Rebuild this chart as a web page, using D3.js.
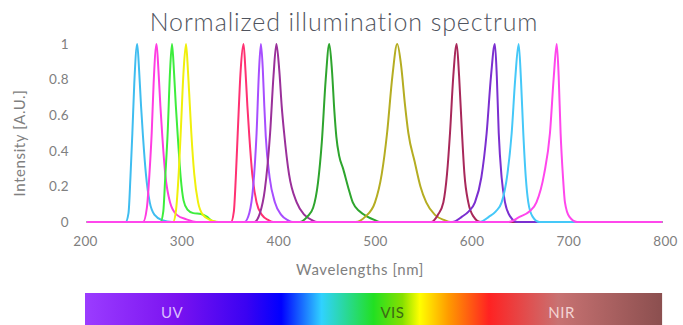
<!DOCTYPE html>
<html>
<head>
<meta charset="utf-8">
<script src="https://cdnjs.cloudflare.com/ajax/libs/d3/7.8.5/d3.min.js"></script>
<style>
  body { margin: 0; background: #fff; }
  text { font-family: Lato, "Open Sans", sans-serif; }
</style>
</head>
<body>
<script>
const W = 683, H = 325;

// tick labels
const xTicks = [200, 300, 400, 500, 600, 700, 800];
const yTicks = [0, 0.2, 0.4, 0.6, 0.8, 1];

// LED spectra: [wavelength nm, normalized intensity]
const led254 = [[202,0],[242,0],[245,0.05],[247,0.25],[249,0.5],[251,0.78],[254,1],[256,0.85],[258,0.65],[260,0.48],[263,0.27],[267,0.11],[272,0.04],[280,0.01],[290,0],[797,0]];
const led274 = [[202,0],[260,0],[264,0.08],[267,0.3],[269,0.5],[271,0.78],[274,1],[276,0.85],[278,0.65],[280,0.48],[283,0.27],[288,0.11],[295,0.04],[305,0.015],[315,0],[797,0]];
const led290 = [[202,0],[278,0],[281,0.06],[283,0.25],[285.5,0.5],[288,0.85],[290,1],[292,0.85],[294,0.65],[296,0.48],[299,0.25],[302,0.12],[306,0.07],[312,0.05],[320,0.045],[326,0.03],[332,0.005],[340,0],[797,0]];
const led305 = [[202,0],[291,0],[294,0.06],[297,0.28],[299,0.5],[302,0.85],[304.5,1],[306.5,0.85],[308.5,0.65],[310,0.5],[313,0.27],[317,0.11],[322,0.04],[330,0.01],[338,0],[797,0]];
const led364 = [[202,0],[351,0],[354,0.06],[356,0.25],[358,0.5],[361,0.85],[364,1],[366,0.85],[368,0.65],[370,0.48],[373,0.27],[377.5,0.11],[383,0.04],[390,0.01],[395,0],[797,0]];
const led382 = [[202,0],[365,0],[370,0.05],[374,0.2],[377.5,0.5],[380,0.85],[382,1],[384,0.85],[385.5,0.65],[387,0.48],[391,0.25],[396.5,0.11],[403,0.04],[410,0.01],[415,0],[797,0]];
const led398 = [[202,0],[375,0],[381,0.05],[386,0.18],[391.5,0.5],[395,0.82],[398,1],[401,0.85],[403.5,0.65],[406,0.5],[411,0.27],[419,0.11],[427,0.04],[435,0.01],[440,0],[797,0]];
const led453 = [[202,0],[422,0],[430,0.03],[436,0.08],[441,0.22],[445,0.45],[449,0.8],[452.7,1],[455.5,0.85],[458,0.62],[460,0.48],[463,0.37],[467,0.3],[472,0.2],[477,0.11],[484,0.06],[492,0.03],[500,0.01],[505,0],[797,0]];
const led523 = [[202,0],[480,0],[490,0.03],[500,0.11],[507,0.27],[512.5,0.5],[518,0.82],[523,1],[527,0.88],[531,0.66],[534.5,0.5],[541,0.34],[547,0.2],[553,0.11],[562,0.04],[572,0.01],[578,0],[797,0]];
const led585 = [[202,0],[558,0],[565,0.04],[570.7,0.11],[574.5,0.27],[577.6,0.5],[581,0.82],[584.5,1],[587,0.82],[590,0.5],[592.5,0.27],[596.5,0.11],[602,0.03],[609,0],[797,0]];
const led624 = [[202,0],[580,0],[590,0.03],[597,0.06],[603.4,0.11],[610,0.25],[615.5,0.5],[620,0.82],[624,1],[626,0.82],[628,0.5],[631,0.25],[634.5,0.11],[640,0.03],[647,0],[797,0]];
const led649 = [[202,0],[608,0],[618,0.03],[625,0.06],[631,0.11],[637,0.27],[641.4,0.5],[645,0.8],[648.6,1],[651,0.8],[653.4,0.5],[656,0.25],[658.6,0.11],[663,0.03],[670,0],[797,0]];
const led688 = [[202,0],[638,0],[650,0.03],[660,0.06],[667,0.11],[675,0.27],[681,0.5],[685,0.82],[688,1],[690,0.82],[692,0.5],[694.5,0.25],[696.5,0.11],[701,0.03],[709,0],[797,0]];

const spectra = [led254, led274, led290, led305, led364, led382, led398, led453, led523, led585, led624, led649, led688];
const colors = ['#3fbdf0', '#ff3de2', '#3ded3d', '#f0f00c', '#ff3172', '#a74eff', '#9a309a', '#2ea52e', '#b5ad22', '#a8285a', '#7b2fd0', '#45c8f8', '#ff47ec'];

// band labels under the chart
const bands = ['UV', 'VIS', 'NIR'];
const bandNm = [290, 518, 693];
const bandColors = ['#d9bcff', '#3d6a14', '#f3d4d4'];

const svg = d3.select('body').append('svg')
  .attr('width', W)
  .attr('height', H);

const x = d3.scaleLinear().domain([200, 800]).range([85, 665]);
const y = d3.scaleLinear().domain([0, 1]).range([222, 44]);

// title
svg.append('text')
  .attr('x', 344).attr('y', 31)
  .attr('text-anchor', 'middle')
  .attr('font-size', '25px')
  .attr('font-weight', 300)
  .attr('letter-spacing', '0.9px')
  .attr('fill', '#50545e')
  .text('Normalized illumination spectrum');

// axes, no domain lines
const yAxis = svg.append('g')
  .attr('transform', `translate(${x(200)},0)`)
  .call(d3.axisLeft(y).tickValues(yTicks).tickSize(0).tickPadding(16).tickFormat(d3.format('~g')));
const xAxis = svg.append('g')
  .attr('transform', `translate(0,${y(0)})`)
  .call(d3.axisBottom(x).tickValues(xTicks).tickSize(0).tickPadding(14));
[xAxis, yAxis].forEach(g => {
  g.select('.domain').remove();
  g.selectAll('text')
    .attr('font-family', 'Lato, sans-serif')
    .attr('font-size', '13.5px')
    .attr('letter-spacing', '0.4px')
    .attr('fill', '#808080');
});

svg.append('text')
  .attr('transform', `translate(25,${(y(0) + y(1)) / 2 + 10}) rotate(-90)`)
  .attr('text-anchor', 'middle')
  .attr('font-size', '15px')
  .attr('letter-spacing', '0.6px')
  .attr('fill', '#808080')
  .text('Intensity [A.U.]');

svg.append('text')
  .attr('x', 360).attr('y', 275)
  .attr('text-anchor', 'middle')
  .attr('font-size', '15px')
  .attr('letter-spacing', '0.6px')
  .attr('fill', '#808080')
  .text('Wavelengths [nm]');

// spectra
const line = d3.line()
  .x(d => x(d[0]))
  .y(d => y(d[1]))
  .curve(d3.curveMonotoneX);

svg.append('g').selectAll('path')
  .data(spectra)
  .enter()
  .append('path')
  .attr('d', line)
  .attr('fill', 'none')
  .attr('stroke', (d, i) => colors[i])
  .attr('stroke-width', 2)
  .attr('stroke-linejoin', 'round');

// rainbow bar
const stops = [
  [0, '#9b3cff'], [0.16, '#7a12f0'], [0.28, '#3a02f2'], [0.34, '#0000ff'],
  [0.41, '#30d2ff'], [0.5, '#22e022'], [0.55, '#86e000'], [0.58, '#ffff00'],
  [0.63, '#ff9a00'], [0.7, '#ff2222'], [0.82, '#c87272'], [1, '#8b4f4f']
];
const grad = svg.append('defs').append('linearGradient')
  .attr('id', 'rainbow');
grad.selectAll('stop')
  .data(stops)
  .enter()
  .append('stop')
  .attr('offset', d => d[0])
  .attr('stop-color', d => d[1]);

svg.append('rect')
  .attr('x', x(200)).attr('y', 293)
  .attr('width', x(797) - x(200)).attr('height', 40)
  .attr('fill', 'url(#rainbow)');

svg.selectAll('.band')
  .data(bands)
  .enter()
  .append('text')
  .attr('class', 'band')
  .attr('x', (d, i) => x(bandNm[i]))
  .attr('y', 318)
  .attr('text-anchor', 'middle')
  .attr('font-size', '15px')
  .attr('letter-spacing', '0.5px')
  .attr('fill', (d, i) => bandColors[i])
  .text(d => d);
</script>
</body>
</html>
